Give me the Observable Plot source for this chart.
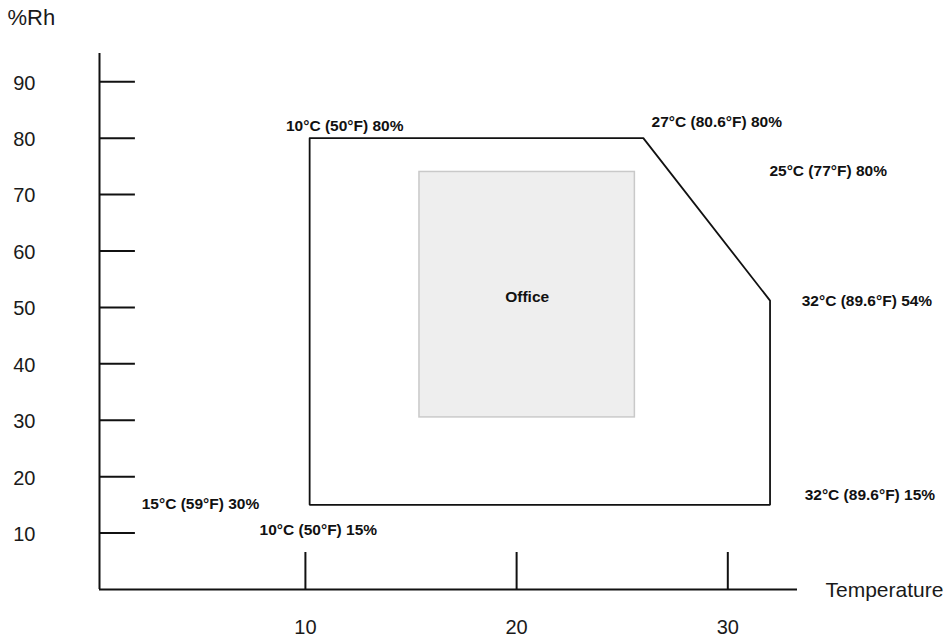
<!DOCTYPE html>
<html>
<head>
<meta charset="utf-8">
<script src="https://cdn.jsdelivr.net/npm/d3@7"></script>
<script src="https://cdn.jsdelivr.net/npm/@observablehq/plot@0.6"></script>
<style>
  html, body { margin: 0; padding: 0; background: #fff; }
  #chart svg { display: block; }
</style>
</head>
<body>
<div id="chart"></div>
<script>
// ---- data ----
const yTicks = [10, 20, 30, 40, 50, 60, 70, 80, 90];
const xTicks = [10, 20, 30];
const xAxisLabel = "Temperature";
const yAxisLabel = "%Rh";

// operating envelope (temperature °C, relative humidity %)
const envTemp = [10.2, 26, 32, 32, 10.2, 10.2];
const envRh   = [80, 80, 51.2, 15, 15, 80];

// office zone
const officeName = "Office";
const officeTemp = [15.4, 25.6];
const officeRh   = [30.5, 74];

// annotation texts and their anchor points
const noteText = [
  "10°C (50°F) 80%",
  "27°C (80.6°F) 80%",
  "25°C (77°F) 80%",
  "32°C (89.6°F) 54%",
  "32°C (89.6°F) 15%",
  "15°C (59°F) 30%",
  "10°C (50°F) 15%"
];
const noteTemp = [9.08, 26.39, 31.97, 33.50, 33.64, 2.25, 7.83];
const noteRh   = [82.1, 82.8, 74.1, 51.2, 16.7, 15.2, 10.5];

// axis extents
const xStart = 0.25, xEnd = 33.3, yEnd = 95;

// ---- tables built from arrays ----
const envelope = envTemp.map((t, i) => ({t, rh: envRh[i]}));
const notes = noteText.map((s, i) => ({s, t: noteTemp[i], rh: noteRh[i]}));
const office = [{x1: officeTemp[0], x2: officeTemp[1], y1: officeRh[0], y2: officeRh[1]}];

const font = "'Liberation Sans', Arial, sans-serif";
const ink = "#111";

const chart = Plot.plot({
  width: 947,
  height: 637,
  marginLeft: 99,
  marginRight: 150,
  marginTop: 53,
  marginBottom: 48,
  style: {fontFamily: font, background: "#fff", overflow: "visible"},
  x: {domain: [xStart, xEnd]},
  y: {domain: [0, yEnd]},
  marks: [
    // office rectangle
    Plot.rect(office, {x1: "x1", x2: "x2", y1: "y1", y2: "y2", fill: "#eeeeee", stroke: "#c9c9c9", strokeWidth: 1.5}),
    Plot.text([officeName], {x: (officeTemp[0] + officeTemp[1]) / 2, y: 51.8, text: d => d, fontSize: 15.5, fontWeight: "bold", fill: ink}),
    // envelope polygon
    Plot.line(envelope, {x: "t", y: "rh", stroke: ink, strokeWidth: 1.8, strokeLinejoin: "miter"}),
    // axis lines
    Plot.ruleX([xStart], {y1: 0, y2: yEnd, stroke: ink, strokeWidth: 2}),
    Plot.ruleY([0], {x1: xStart, x2: xEnd, stroke: ink, strokeWidth: 2}),
    // y tick marks (pointing right)
    Plot.ruleY(yTicks, {x1: xStart, x2: xStart + 1.7, stroke: ink, strokeWidth: 2}),
    // x tick marks (pointing up)
    Plot.ruleX(xTicks, {y1: 0, y2: 6.56, stroke: ink, strokeWidth: 2}),
    // tick labels
    Plot.axisY({ticks: yTicks, tickSize: 0, tickPadding: 64, dy: 1.5, fontSize: 20, fill: "#1a1a1a", label: null}),
    Plot.axisX({ticks: xTicks, tickSize: 0, tickPadding: 30, fontSize: 20, fill: "#1a1a1a", label: null}),
    // axis titles
    Plot.text([yAxisLabel], {x: xStart, y: yEnd, text: d => d, dx: -92, dy: -36, textAnchor: "start", fontSize: 22, fill: "#1a1a1a"}),
    Plot.text([xAxisLabel], {x: xEnd, y: 0, text: d => d, dx: 28, dy: 1, textAnchor: "start", fontSize: 21, fill: "#1a1a1a"}),
    // annotations
    Plot.text(notes, {x: "t", y: "rh", text: "s", textAnchor: "start", fontSize: 15.5, fontWeight: "bold", fill: ink})
  ]
});
document.getElementById("chart").appendChild(chart);
</script>
</body>
</html>
